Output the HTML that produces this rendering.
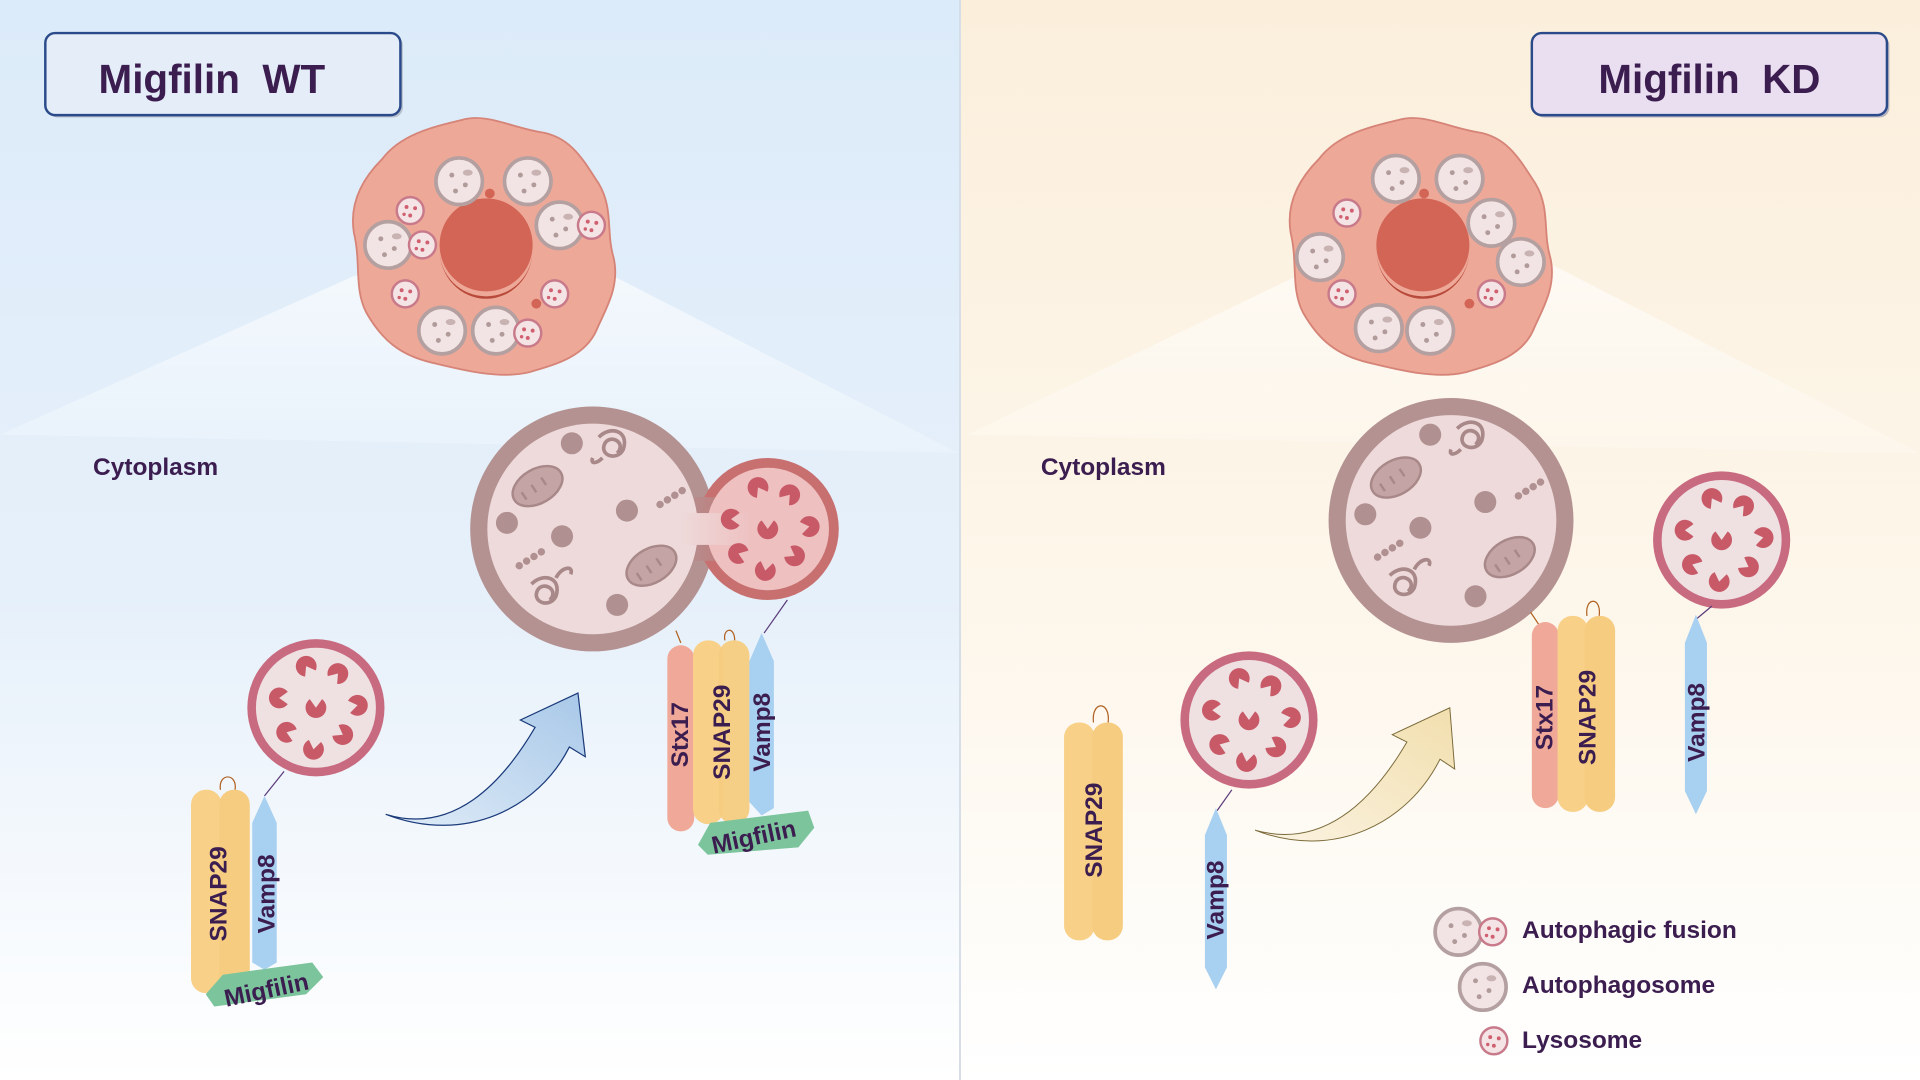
<!DOCTYPE html>
<html><head><meta charset="utf-8">
<style>
html,body{margin:0;padding:0;width:1920px;height:1080px;overflow:hidden;background:#fff}
svg{display:block}
text{font-family:"Liberation Sans",sans-serif;font-weight:bold;fill:#3b1d4f}
</style></head><body>
<svg width="1920" height="1080" viewBox="0 0 1568 882" xmlns="http://www.w3.org/2000/svg">
<defs>
<linearGradient id="bl" x1="0" y1="0" x2="0" y2="1"><stop offset="0" stop-color="#dcebf9"/><stop offset="0.55" stop-color="#e6f0fa"/><stop offset="1" stop-color="#ffffff"/></linearGradient>
<linearGradient id="yl" x1="0" y1="0" x2="0" y2="1"><stop offset="0" stop-color="#fbefdc"/><stop offset="0.55" stop-color="#fdf6ea"/><stop offset="1" stop-color="#ffffff"/></linearGradient>
<linearGradient id="beam" x1="0" y1="0" x2="0" y2="1"><stop offset="0" stop-color="#fff" stop-opacity="0.6"/><stop offset="1" stop-color="#fff" stop-opacity="0.2"/></linearGradient>
<linearGradient id="arrB" x1="0" y1="1" x2="1" y2="0"><stop offset="0" stop-color="#e0ecf8"/><stop offset="1" stop-color="#a8c8e8"/></linearGradient>
<linearGradient id="arrY" x1="0" y1="1" x2="1" y2="0"><stop offset="0" stop-color="#fbf3e2"/><stop offset="1" stop-color="#f2dfae"/></linearGradient>
<linearGradient id="neck" x1="0" y1="0" x2="1" y2="0"><stop offset="0" stop-color="#b49292"/><stop offset="1" stop-color="#c87070"/></linearGradient>
<linearGradient id="neckIn" x1="0" y1="0" x2="1" y2="0"><stop offset="0" stop-color="#eedada"/><stop offset="1" stop-color="#eec0c0"/></linearGradient>
<g id="pac"><path d="M0,0 L7,-5 A8.5,8.5 0 1,0 7,5 Z" fill="#c85a68"/></g>
<g id="pacs">
 <use href="#pac" transform="translate(-8,-34) rotate(60)"/>
 <use href="#pac" transform="translate(18,-28) rotate(130)"/>
 <use href="#pac" transform="translate(-30,-8) rotate(0)"/>
 <use href="#pac" transform="translate(0,0) rotate(-90)"/>
 <use href="#pac" transform="translate(34,-2) rotate(170)"/>
 <use href="#pac" transform="translate(-24,20) rotate(20)"/>
 <use href="#pac" transform="translate(22,22) rotate(-150)"/>
 <use href="#pac" transform="translate(-2,34) rotate(-80)"/>
</g>
<g id="lyso"><circle r="56" fill="#c86a80"/><circle r="49" fill="#efe0e2"/><use href="#pacs"/></g>
<g id="apS"><circle r="19" fill="#f2e4e4" stroke="#b4a0a0" stroke-width="3"/><circle cx="-6" cy="-5" r="2" fill="#b09a9a"/><circle cx="5" cy="3" r="2" fill="#b09a9a"/><circle cx="-3" cy="8" r="2" fill="#b09a9a"/><ellipse cx="7" cy="-7" rx="4" ry="2.5" fill="#c8b2b2"/></g>
<g id="lyS"><circle r="11" fill="#f4e4e6" stroke="#c87a8a" stroke-width="2"/><circle cx="-3" cy="-3" r="1.6" fill="#d06070"/><circle cx="4" cy="-2" r="1.6" fill="#d06070"/><circle cx="0" cy="4" r="1.6" fill="#d06070"/><circle cx="-5" cy="3" r="1.4" fill="#d06070"/></g>
<g id="cell">
 <path d="M-20,-102 C0,-108 20,-96 45,-92 C70,-88 80,-68 92,-50 C104,-30 98,-10 104,10 C110,35 96,55 90,70 C80,92 55,98 35,104 C10,110 -20,102 -45,96 C-70,90 -85,78 -98,55 C-108,35 -102,15 -108,-10 C-112,-35 -100,-55 -85,-70 C-70,-90 -45,-96 -20,-102 Z" fill="#eea898" stroke="#d68478" stroke-width="1.5"/>
 <circle r="38" fill="#d26555"/><path d="M-38,4 A38,38 0 0,0 38,4 A38,40 0 0,1 -38,4Z" fill="#b84a3c"/>
</g>
<g id="bigContent">
 <ellipse cx="-45" cy="-35" rx="22" ry="14" transform="rotate(-30 -45 -35)" fill="#c4a4a4" stroke="#a88888" stroke-width="2"/>
 <path d="M-58,-30 l4,6 M-50,-36 l4,6 M-42,-42 l4,6" stroke="#a88888" stroke-width="2"/>
 <ellipse cx="48" cy="30" rx="22" ry="14" transform="rotate(-30 48 30)" fill="#c4a4a4" stroke="#a88888" stroke-width="2"/>
 <path d="M36,36 l4,6 M44,30 l4,6 M52,24 l4,6" stroke="#a88888" stroke-width="2"/>
 <circle cx="-17" cy="-70" r="9" fill="#b09090"/><circle cx="28" cy="-15" r="9" fill="#b09090"/><circle cx="-25" cy="6" r="9" fill="#b09090"/><circle cx="-70" cy="-5" r="9" fill="#b09090"/><circle cx="20" cy="62" r="9" fill="#b09090"/>
 <path d="M5,-75 c10,-10 25,-5 20,10 c-5,10 -20,5 -15,-5 c5,-8 18,0 10,8 M8,-58 c-5,5 -10,5 -8,0" fill="none" stroke="#a88888" stroke-width="3"/>
 <path d="M-50,45 c10,-10 25,-5 20,10 c-5,10 -20,5 -15,-5 c5,-8 18,0 10,8 M-30,40 c5,-10 15,-10 12,-3" fill="none" stroke="#a88888" stroke-width="3"/>
 <path d="M-60,30 l8,-5 8,-5 8,-5" stroke="#b09090" stroke-width="6" stroke-linecap="round" stroke-dasharray="0.1 7"/>
 <path d="M55,-20 l8,-5 8,-5 8,-5" stroke="#b09090" stroke-width="6" stroke-linecap="round" stroke-dasharray="0.1 7"/>
</g>
</defs>

<rect x="0" y="0" width="784" height="882" fill="url(#bl)"/>
<rect x="784" y="0" width="784" height="882" fill="url(#yl)"/>
<line x1="784" y1="0" x2="784" y2="882" stroke="#d4dce6" stroke-width="1.5"/>
<polygon points="290,225 0,355 783,370 500,225" fill="url(#beam)"/>
<polygon points="1060,225 790,355 1568,370 1265,215" fill="url(#beam)"/>

<!-- title boxes -->
<rect x="39" y="29" width="290" height="67" rx="8" fill="#b8c0cc"/>
<rect x="37" y="27" width="290" height="67" rx="8" fill="#e4edf8" stroke="#2a4a8a" stroke-width="2"/>
<text x="173" y="76" font-size="33" text-anchor="middle">Migfilin&#160;&#160;WT</text>
<rect x="1253" y="29" width="290" height="67" rx="8" fill="#b8b4c0"/>
<rect x="1251" y="27" width="290" height="67" rx="8" fill="#eadff1" stroke="#2a4a8a" stroke-width="2"/>
<text x="1396" y="76" font-size="33" text-anchor="middle">Migfilin&#160;&#160;KD</text>

<!-- cells -->
<g transform="translate(397,200)"><use href="#cell"/>
 <use href="#apS" transform="translate(-22,-52)"/><use href="#apS" transform="translate(34,-52)"/>
 <use href="#apS" transform="translate(-80,0)"/><use href="#lyS" transform="translate(-52,0)"/>
 <use href="#apS" transform="translate(60,-16)"/><use href="#lyS" transform="translate(86,-16)"/>
 <use href="#lyS" transform="translate(-62,-28)"/><use href="#lyS" transform="translate(-66,40)"/><use href="#lyS" transform="translate(56,40)"/>
 <use href="#apS" transform="translate(-36,70)"/><use href="#apS" transform="translate(8,70)"/><use href="#lyS" transform="translate(34,72)"/>
 <circle cx="3" cy="-42" r="4" fill="#d26555"/><circle cx="41" cy="48" r="4" fill="#d26555"/>
</g>
<g transform="translate(1162,200)"><use href="#cell"/>
 <use href="#apS" transform="translate(-22,-54)"/><use href="#apS" transform="translate(30,-54)"/>
 <use href="#apS" transform="translate(-84,10)"/><use href="#apS" transform="translate(56,-18)"/><use href="#apS" transform="translate(80,14)"/>
 <use href="#lyS" transform="translate(-62,-26)"/><use href="#lyS" transform="translate(-66,40)"/><use href="#lyS" transform="translate(56,40)"/>
 <use href="#apS" transform="translate(-36,68)"/><use href="#apS" transform="translate(6,70)"/>
 <circle cx="1" cy="-42" r="4" fill="#d26555"/><circle cx="38" cy="48" r="4" fill="#d26555"/>
</g>

<text x="76" y="388" font-size="20">Cytoplasm</text>
<text x="850" y="388" font-size="20">Cytoplasm</text>

<!-- WT fusion -->
<circle cx="484" cy="432" r="100" fill="#b49292"/>
<circle cx="627" cy="432" r="58" fill="#c87070"/>
<rect x="555" y="406" width="60" height="52" fill="url(#neck)"/>
<circle cx="484" cy="432" r="86" fill="#eedada"/>
<circle cx="627" cy="432" r="50" fill="#eec0c0"/>
<rect x="555" y="419" width="60" height="26" fill="url(#neckIn)"/>
<g transform="translate(484,432)"><use href="#bigContent"/></g>
<g transform="translate(627,432)"><use href="#pacs"/></g>

<line x1="552" y1="515" x2="556" y2="525" stroke="#b06020" stroke-width="1"/>
<line x1="643" y1="490" x2="624" y2="517" stroke="#5a3a7a" stroke-width="1"/>
<rect x="545" y="527" width="22" height="152" rx="11" fill="#f0a898"/>
<path d="M592,523 c-2,-10 8,-12 8,0" fill="none" stroke="#b06020" stroke-width="1"/>
<rect x="566" y="523" width="25" height="150" rx="12" fill="#f8d088"/>
<rect x="587" y="523" width="25" height="150" rx="12" fill="#f6cc80" opacity="0.95"/>
<polygon points="622,517 632,540 632,660 622,666 612,655 612,540" fill="#a8d0f0"/>
<text transform="translate(562,600) rotate(-90)" font-size="20" text-anchor="middle">Stx17</text>
<text transform="translate(596,598) rotate(-90)" font-size="20" text-anchor="middle">SNAP29</text>
<text transform="translate(629,598) rotate(-90)" font-size="20" text-anchor="middle">Vamp8</text>
<polygon points="570,690 580,672 660,662 665,676 652,692 578,698" fill="#7cc59c"/>
<text transform="translate(617,690) rotate(-12)" font-size="20" text-anchor="middle">Migfilin</text>

<!-- WT arrow -->
<path d="M315,665 C370,682 410,640 437,594 L425,588 L472,566 L478,618 L465,610 C440,660 380,690 315,665Z" fill="url(#arrB)" stroke="#1a3a7a" stroke-width="1"/>

<!-- WT left complex -->
<g transform="translate(258,578)"><use href="#lyso"/></g>
<line x1="232" y1="630" x2="216" y2="650" stroke="#5a3a7a" stroke-width="1"/>
<path d="M180,645 c-2,-14 14,-14 12,0" fill="none" stroke="#b06020" stroke-width="1"/>
<rect x="156" y="645" width="25" height="166" rx="12" fill="#f8d088"/>
<rect x="179" y="645" width="25" height="166" rx="12" fill="#f6cc80"/>
<polygon points="216,650 226,672 226,786 216,792 206,786 206,672" fill="#a8d0f0"/>
<text transform="translate(185,730) rotate(-90)" font-size="20" text-anchor="middle">SNAP29</text>
<text transform="translate(224,730) rotate(-90)" font-size="20" text-anchor="middle">Vamp8</text>
<polygon points="168,812 182,796 255,786 264,798 250,812 175,822" fill="#7cc59c"/>
<text transform="translate(219,815) rotate(-12)" font-size="20" text-anchor="middle">Migfilin</text>

<!-- KD -->
<circle cx="1185" cy="425" r="100" fill="#b49292"/>
<circle cx="1185" cy="425" r="86" fill="#eedada"/>
<g transform="translate(1185,425)"><use href="#bigContent"/></g>
<g transform="translate(1406,441)"><use href="#lyso"/></g>
<line x1="1250" y1="500" x2="1258" y2="512" stroke="#b06020" stroke-width="1"/>
<rect x="1251" y="508" width="22" height="152" rx="11" fill="#f0a898"/>
<path d="M1296,503 c-2,-16 12,-16 10,0" fill="none" stroke="#b06020" stroke-width="1"/>
<rect x="1272" y="503" width="25" height="160" rx="12" fill="#f8d088"/>
<rect x="1294" y="503" width="25" height="160" rx="12" fill="#f6cc80"/>
<text transform="translate(1268,586) rotate(-90)" font-size="20" text-anchor="middle">Stx17</text>
<text transform="translate(1303,586) rotate(-90)" font-size="20" text-anchor="middle">SNAP29</text>
<line x1="1398" y1="495" x2="1386" y2="505" stroke="#5a3a7a" stroke-width="1"/>
<polygon points="1385,502 1394,525 1394,646 1385,665 1376,646 1376,525" fill="#a8d0f0"/>
<text transform="translate(1392,590) rotate(-90)" font-size="20" text-anchor="middle">Vamp8</text>

<path d="M893,590 c-2,-18 14,-18 12,0" fill="none" stroke="#b06020" stroke-width="1"/>
<rect x="869" y="590" width="25" height="178" rx="12" fill="#f8d088"/>
<rect x="892" y="590" width="25" height="178" rx="12" fill="#f6cc80"/>
<text transform="translate(900,678) rotate(-90)" font-size="20" text-anchor="middle">SNAP29</text>
<g transform="translate(1020,588)"><use href="#lyso"/></g>
<line x1="1006" y1="645" x2="994" y2="662" stroke="#5a3a7a" stroke-width="1"/>
<polygon points="993,660 1002,682 1002,790 993,808 984,790 984,682" fill="#a8d0f0"/>
<text transform="translate(999,735) rotate(-90)" font-size="20" text-anchor="middle">Vamp8</text>

<path d="M1025,678 C1082,694 1122,652 1149,606 L1137,600 L1184,578 L1188,628 L1176,620 C1150,672 1090,703 1025,678Z" fill="url(#arrY)" stroke="#7a6a3a" stroke-width="0.8"/>

<!-- legend -->
<g transform="translate(1191,761)"><use href="#apS"/></g><g transform="translate(1219,761)"><use href="#lyS"/></g>
<g transform="translate(1211,806)"><use href="#apS"/></g>
<g transform="translate(1220,850)"><use href="#lyS"/></g>
<text x="1243" y="766" font-size="20">Autophagic fusion</text>
<text x="1243" y="811" font-size="20">Autophagosome</text>
<text x="1243" y="856" font-size="20">Lysosome</text>
</svg>
</body></html>
